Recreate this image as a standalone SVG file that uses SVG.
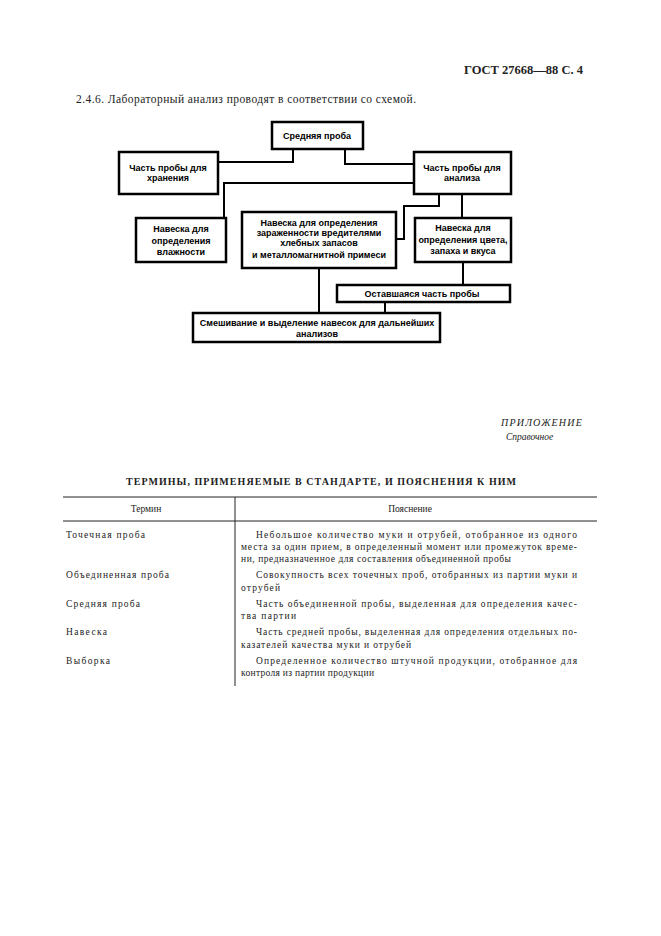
<svg xmlns="http://www.w3.org/2000/svg" width="661" height="936" viewBox="0 0 661 936">
<style>
.box{fill:#fff;stroke:#000;stroke-width:2.5}
.con{fill:none;stroke:#000;stroke-width:2}
.bt{font-family:"Liberation Sans",Arial,sans-serif;font-weight:bold;font-size:9px;text-anchor:middle;fill:#000}
.doc{font-family:"Liberation Serif","Times New Roman",serif;fill:#222}
.tb{font-family:"Liberation Serif","Times New Roman",serif;font-size:9.5px;fill:#222}
.rule{stroke:#222;stroke-width:1}
</style>
<rect width="661" height="936" fill="#fff"/>
<text class="doc" x="583" y="74" font-size="12.5" font-weight="bold" text-anchor="end">ГОСТ 27668—88 С. 4</text>
<text class="doc" x="76" y="103" font-size="11.5" textLength="340" lengthAdjust="spacing">2.4.6.  Лабораторный анализ проводят в соответствии со схемой.</text>

<g id="connectors">
<polyline class="con" points="293,149 293,162 218,162"/>
<polyline class="con" points="345,149 345,164 414,164"/>
<polyline class="con" points="414,183 224,183 224,218"/>
<polyline class="con" points="439,194 439,206 404,206 404,239 396,239"/>
<polyline class="con" points="462,194 462,218"/>
<polyline class="con" points="463,262 463,285"/>
<polyline class="con" points="319,268 319,313"/>
<polyline class="con" points="385,302 385,313"/>
</g>

<g id="n_srednyaya">
<rect class="box" x="272" y="122" width="91" height="27"/>
<text class="bt" x="317" y="139">Средняя проба</text>
</g>
<g id="n_hranenie">
<rect class="box" x="119" y="152" width="99" height="42"/>
<text class="bt" x="168" y="171">Часть пробы для</text>
<text class="bt" x="168" y="181">хранения</text>
</g>
<g id="n_analiz">
<rect class="box" x="414" y="152" width="97" height="42"/>
<text class="bt" x="462" y="171">Часть пробы для</text>
<text class="bt" x="462" y="181">анализа</text>
</g>
<g id="n_vlazhnost">
<rect class="box" x="136" y="218" width="90" height="44"/>
<text class="bt" x="181" y="232">Навеска для</text>
<text class="bt" x="181" y="244">определения</text>
<text class="bt" x="181" y="255">влажности</text>
</g>
<g id="n_zarazhennost">
<rect class="box" x="242" y="212" width="154" height="56"/>
<text class="bt" x="319" y="226">Навеска для определения</text>
<text class="bt" x="319" y="236">зараженности вредителями</text>
<text class="bt" x="319" y="246">хлебных запасов</text>
<text class="bt" x="319" y="258">и металломагнитной примеси</text>
</g>
<g id="n_cvet">
<rect class="box" x="415" y="218" width="96" height="44"/>
<text class="bt" x="463" y="231">Навеска для</text>
<text class="bt" x="463" y="243">определения цвета,</text>
<text class="bt" x="463" y="254">запаха и вкуса</text>
</g>
<g id="n_ostavshayasya">
<rect class="box" x="337" y="285" width="173" height="17"/>
<text class="bt" x="422" y="297">Оставшаяся часть пробы</text>
</g>
<g id="n_smeshivanie">
<rect class="box" x="193" y="313" width="247" height="29"/>
<text class="bt" x="317" y="326">Смешивание и выделение навесок для дальнейших</text>
<text class="bt" x="317" y="337">анализов</text>
</g>

<text class="doc" x="583" y="426" font-size="10" font-style="italic" text-anchor="end" letter-spacing="1.2">ПРИЛОЖЕНИЕ</text>
<text class="doc" x="506" y="440" font-size="9.5" font-style="italic">Справочное</text>
<text class="doc" x="126" y="485" font-size="10" font-weight="bold" textLength="390" lengthAdjust="spacing">ТЕРМИНЫ, ПРИМЕНЯЕМЫЕ В СТАНДАРТЕ, И ПОЯСНЕНИЯ К НИМ</text>

<g id="table">
<line class="rule" x1="63" y1="497" x2="597" y2="497"/>
<line class="rule" x1="63" y1="521" x2="597" y2="521"/>
<line class="rule" x1="235" y1="497" x2="235" y2="686"/>
<text class="tb" x="146" y="512" font-size="8.5" text-anchor="middle">Термин</text>
<text class="tb" x="410" y="512" font-size="8.5" text-anchor="middle">Пояснение</text>

<text class="tb" x="66" y="538" textLength="79" lengthAdjust="spacing">Точечная проба</text>
<text class="tb" x="256" y="538" textLength="321" lengthAdjust="spacing">Небольшое количество муки и отрубей, отобранное из одного</text>
<text class="tb" x="241" y="550" textLength="336" lengthAdjust="spacing">места за один прием, в определенный момент или промежуток време-</text>
<text class="tb" x="241" y="562" textLength="270" lengthAdjust="spacing">ни, предназначенное для составления объединенной пробы</text>

<text class="tb" x="66" y="578" textLength="103" lengthAdjust="spacing">Объединенная проба</text>
<text class="tb" x="256" y="578" textLength="321" lengthAdjust="spacing">Совокупность всех точечных проб, отобранных из партии муки и</text>
<text class="tb" x="241" y="591" textLength="39" lengthAdjust="spacing">отрубей</text>

<text class="tb" x="66" y="607" textLength="74" lengthAdjust="spacing">Средняя проба</text>
<text class="tb" x="256" y="607" textLength="321" lengthAdjust="spacing">Часть объединенной пробы, выделенная для определения качес-</text>
<text class="tb" x="241" y="619" textLength="55" lengthAdjust="spacing">тва партии</text>

<text class="tb" x="66" y="635" textLength="41" lengthAdjust="spacing">Навеска</text>
<text class="tb" x="256" y="635" textLength="321" lengthAdjust="spacing">Часть средней пробы, выделенная для определения отдельных по-</text>
<text class="tb" x="241" y="648" textLength="170" lengthAdjust="spacing">казателей качества муки и отрубей</text>

<text class="tb" x="66" y="664" textLength="44" lengthAdjust="spacing">Выборка</text>
<text class="tb" x="256" y="664" textLength="321" lengthAdjust="spacing">Определенное количество штучной продукции, отобранное для</text>
<text class="tb" x="241" y="676" textLength="133" lengthAdjust="spacing">контроля из партии продукции</text>
</g>
</svg>
